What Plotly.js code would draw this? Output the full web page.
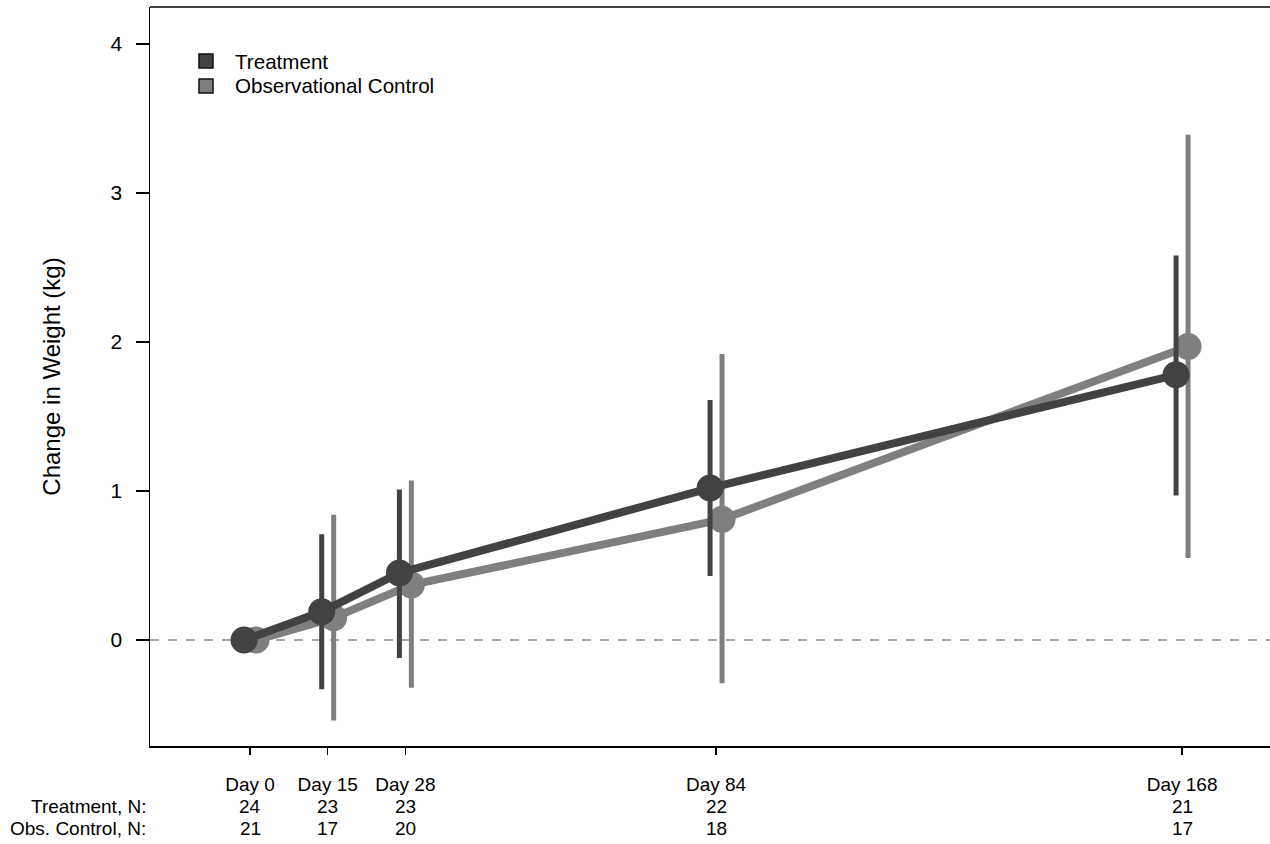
<!DOCTYPE html>
<html>
<head>
<meta charset="utf-8">
<script src="https://cdn.plot.ly/plotly-3.0.1.min.js"></script>
<style>html,body{margin:0;padding:0;overflow:hidden;background:#fff;}</style>
</head>
<body>
<div id="chart" style="width:1270px;height:844px;"></div>
<script>
// Data
const visitDays = [0, 14, 28, 84, 168];
const visitLabels = ["Day 0", "Day 15", "Day 28", "Day 84", "Day 168"];
const treatmentN = [24, 23, 23, 22, 21];
const controlN = [21, 17, 20, 18, 17];

const treatmentMean = [0, 0.19, 0.45, 1.02, 1.78];
const treatmentLower = [0, -0.33, -0.12, 0.43, 0.97];
const treatmentUpper = [0, 0.71, 1.01, 1.61, 2.58];

const controlMean = [0, 0.15, 0.37, 0.81, 1.97];
const controlLower = [0, -0.54, -0.32, -0.29, 0.55];
const controlUpper = [0, 0.84, 1.07, 1.92, 3.39];

const seriesNames = ["Treatment", "Observational Control"];

const dodge = 1.08; // horizontal dodge in days
const darkCol = "#424242";
const greyCol = "#7f7f7f";
const fontFam = "'Liberation Sans', Arial, sans-serif";

function series(name, mean, lo, hi, shift, color) {
  return {
    type: "scatter",
    mode: "lines+markers",
    name: name,
    showlegend: false,
    x: visitDays.map(d => d + shift),
    y: mean,
    line: {color: color, width: 8},
    marker: {color: color, size: 27},
    error_y: {
      type: "data",
      symmetric: false,
      array: hi.map((h, i) => h - mean[i]),
      arrayminus: mean.map((m, i) => m - lo[i]),
      color: color,
      thickness: 5,
      width: 0
    }
  };
}

const traces = [
  series(seriesNames[1], controlMean, controlLower, controlUpper, dodge, greyCol),
  series(seriesNames[0], treatmentMean, treatmentLower, treatmentUpper, -dodge, darkCol)
];

// plot area geometry (pixels) for the hand-placed legend
const W = 1270, H = 844, mL = 150, mR = 0, mT = 7, mB = 98;
const pw = W - mL - mR, ph = H - mT - mB;
const px = v => (v - mL) / pw;
const py = v => 1 - (v - mT) / ph;

const annotations = [];
const shapes = [
  {type: "line", xref: "paper", yref: "y", x0: 0, x1: 1, y0: 0, y1: 0,
    line: {color: "#8c8c8c", width: 1.5, dash: "dash"}, layer: "below"},
  {type: "line", xref: "paper", yref: "paper", x0: 0, x1: 1, y0: 1, y1: 1,
    line: {color: "#000", width: 1.5}}
];

// legend
const legendCols = [darkCol, greyCol];
seriesNames.forEach((nm, i) => {
  const cy = 61 + i * 25;
  shapes.push({type: "rect", xref: "paper", yref: "paper",
    x0: px(199), x1: px(213), y0: py(cy + 7), y1: py(cy - 7),
    fillcolor: legendCols[i], line: {color: "#111", width: 1.5}});
  annotations.push({xref: "paper", yref: "paper", x: px(233), y: py(cy), xanchor: "left", yanchor: "middle",
    text: nm, showarrow: false, font: {family: fontFam, size: 20.6, color: "#000"}});
});

visitDays.forEach((d, i) => {
  annotations.push({xref: "x", yref: "paper", x: d, y: 0, yshift: -60, yanchor: "middle", xanchor: "center",
    text: String(treatmentN[i]), showarrow: false, font: {family: fontFam, size: 19, color: "#000"}});
  annotations.push({xref: "x", yref: "paper", x: d, y: 0, yshift: -82, yanchor: "middle", xanchor: "center",
    text: String(controlN[i]), showarrow: false, font: {family: fontFam, size: 19, color: "#000"}});
});
annotations.push({xref: "paper", yref: "paper", x: 0, xshift: -2, y: 0, yshift: -60, xanchor: "right", yanchor: "middle",
  text: "Treatment, N:", showarrow: false, font: {family: fontFam, size: 19, color: "#000"}});
annotations.push({xref: "paper", yref: "paper", x: 0, xshift: -2, y: 0, yshift: -82, xanchor: "right", yanchor: "middle",
  text: "Obs. Control, N:", showarrow: false, font: {family: fontFam, size: 19, color: "#000"}});

const layout = {
  width: W, height: H,
  margin: {l: mL, r: mR, t: mT, b: mB},
  paper_bgcolor: "#fff", plot_bgcolor: "#fff",
  font: {family: fontFam, size: 19, color: "#000"},
  showlegend: false,
  xaxis: {
    range: [-18.03, 183.85], showgrid: false, zeroline: false,
    showline: true, linecolor: "#000", linewidth: 1.5,
    tickmode: "array", tickvals: visitDays, ticktext: visitLabels,
    ticks: "outside", ticklen: 7, tickwidth: 1.5, tickcolor: "#000",
    ticklabelstandoff: 14,
    tickfont: {family: fontFam, size: 19, color: "#000"}
  },
  yaxis: {
    range: [-0.711, 4.248], showgrid: false, zeroline: false,
    showline: true, linecolor: "#000", linewidth: 1.5,
    tickmode: "array", tickvals: [0, 1, 2, 3, 4],
    ticks: "outside", ticklen: 13, tickwidth: 1.5, tickcolor: "#000",
    ticklabelstandoff: 9,
    tickfont: {family: fontFam, size: 21, color: "#000"},
    title: {text: "Change in Weight (kg)", font: {family: fontFam, size: 24, color: "#000"}, standoff: 43}
  },
  shapes: shapes,
  annotations: annotations
};

Plotly.newPlot("chart", traces, layout, {displayModeBar: false, staticPlot: true});
</script>
</body>
</html>
